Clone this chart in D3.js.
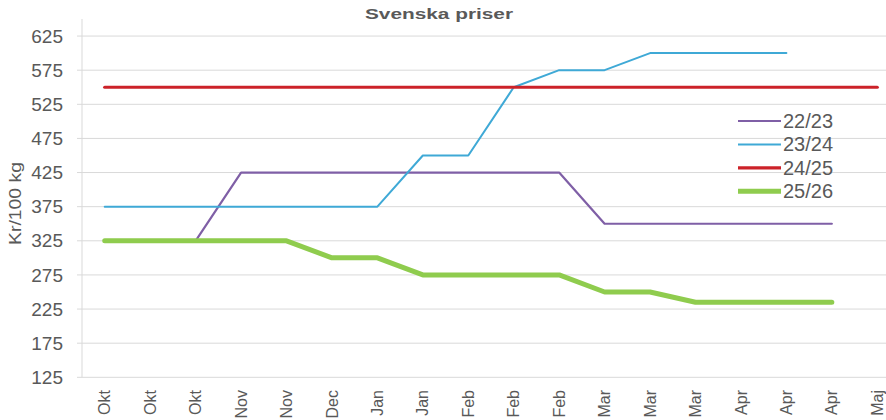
<!DOCTYPE html>
<html>
<head>
<meta charset="utf-8">
<script src="https://cdn.jsdelivr.net/npm/d3@7"></script>
<style>
  body { margin: 0; background: #fff; }
  svg { display: block; }
  text { font-family: "Liberation Sans", Arial, sans-serif; fill: #595959; }
</style>
</head>
<body>
<div id="chart"></div>
<script>
// categories on the x axis (one per data point)
var categories = ["Okt","Okt","Okt","Nov","Nov","Dec","Jan","Jan","Feb","Feb","Feb","Mar","Mar","Mar","Apr","Apr","Apr","Maj"];

// series values, Kr/100 kg
var s2223 = [325,325,325,425,425,425,425,425,425,425,425,350,350,350,350,350,350,null];
var s2324 = [375,375,375,375,375,375,375,450,450,550,575,575,600,600,600,600,null,null];
var s2425 = [550,550,550,550,550,550,550,550,550,550,550,550,550,550,550,550,550,550];
var s2526 = [325,325,325,325,325,300,300,275,275,275,275,250,250,235,235,235,235,null];

var yTicks = [125,175,225,275,325,375,425,475,525,575,625];

var series = [
    { name: "22/23", values: s2223, color: "#7f5fa6", width: 2.2 },
    { name: "23/24", values: s2324, color: "#3fa9d6", width: 2 },
    { name: "24/25", values: s2425, color: "#cc2229", width: 3.2 },
    { name: "25/26", values: s2526, color: "#8fcc4e", width: 5 }
];

var W = 886, H = 420;
// plot area (note: "top" is a reserved window prop, so use m*)
var mLeft = 82, mRight = 900, mTop = 19, mBottom = 377.3;

var svg = d3.select("#chart").append("svg")
    .attr("width", W)
    .attr("height", H);

var x = d3.scaleBand()
    .domain(d3.range(categories.length))
    .range([mLeft, mRight]);

var y = d3.scaleLinear()
    .domain([125, 650])
    .range([mBottom, mTop]);

var cx = function(i) { return x(i) + x.bandwidth() / 2; };

// gridlines
svg.append("g")
    .selectAll("line")
    .data(yTicks)
    .enter().append("line")
    .attr("x1", mLeft - 5)
    .attr("x2", mRight)
    .attr("y1", function(d) { return y(d); })
    .attr("y2", function(d) { return y(d); })
    .attr("stroke", "#d9d9d9")
    .attr("stroke-width", 1);

// vertical axis line
svg.append("line")
    .attr("x1", mLeft).attr("x2", mLeft)
    .attr("y1", mTop).attr("y2", mBottom)
    .attr("stroke", "#d9d9d9");

// y tick labels
svg.append("g")
    .selectAll("text")
    .data(yTicks)
    .enter().append("text")
    .attr("x", 63)
    .attr("y", function(d) { return y(d); })
    .attr("dy", "0.35em")
    .attr("text-anchor", "end")
    .style("font-size", "19px")
    .text(function(d) { return d; });

// x labels, rotated
svg.append("g")
    .selectAll("text")
    .data(categories)
    .enter().append("text")
    .attr("transform", function(d, i) { return "translate(" + cx(i) + ",390) rotate(-90)"; })
    .attr("dy", "0.35em")
    .attr("text-anchor", "end")
    .style("font-size", "16px")
    .text(function(d) { return d; });

// lines
var line = d3.line()
    .defined(function(d) { return d != null; })
    .x(function(d, i) { return cx(i); })
    .y(function(d) { return y(d); });

svg.append("g")
    .selectAll("path")
    .data(series)
    .enter().append("path")
    .attr("d", function(s) { return line(s.values); })
    .attr("fill", "none")
    .attr("stroke", function(s) { return s.color; })
    .attr("stroke-width", function(s) { return s.width; })
    .attr("stroke-linejoin", "round")
    .attr("stroke-linecap", "round");

// title
svg.append("text")
    .attr("x", 439)
    .attr("y", 19)
    .attr("text-anchor", "middle")
    .attr("textLength", 148)
    .attr("lengthAdjust", "spacingAndGlyphs")
    .style("font-size", "15px")
    .style("font-weight", "bold")
    .text("Svenska priser");

// y axis title
svg.append("text")
    .attr("transform", "translate(21,203.5) rotate(-90)")
    .attr("text-anchor", "middle")
    .attr("textLength", 83)
    .attr("lengthAdjust", "spacingAndGlyphs")
    .style("font-size", "16px")
    .text("Kr/100 kg");

// legend
var legend = svg.append("g")
    .selectAll("g")
    .data(series)
    .enter().append("g")
    .attr("transform", function(d, i) { return "translate(738," + (121 + i * 23.4) + ")"; });

legend.append("line")
    .attr("x1", 0).attr("x2", 43)
    .attr("stroke", function(s) { return s.color; })
    .attr("stroke-width", function(s) { return s.width; });

legend.append("text")
    .attr("x", 45)
    .attr("dy", "0.35em")
    .style("font-size", "20px")
    .text(function(s) { return s.name; });
</script>
</body>
</html>
